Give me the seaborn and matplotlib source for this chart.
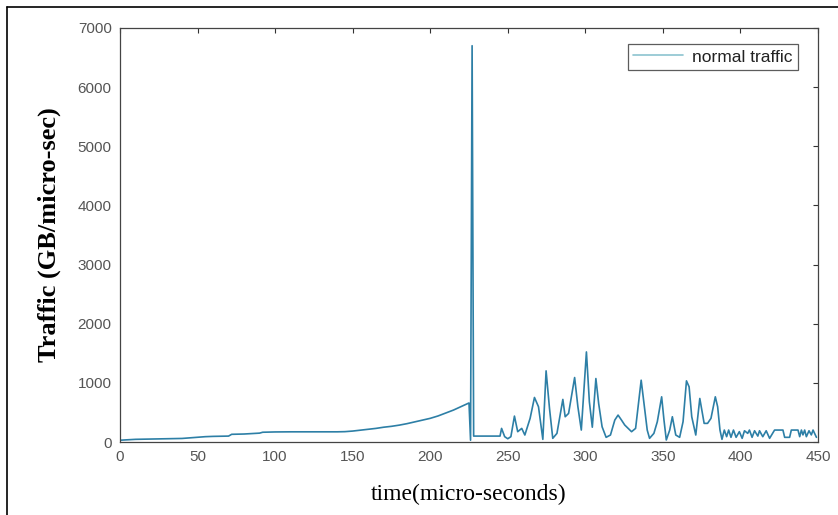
import matplotlib
matplotlib.use("Agg")
import matplotlib.pyplot as plt
from matplotlib.lines import Line2D
import pandas as pd
import seaborn as sns

# valores
tiempo_inicial = [0, 10, 20, 30, 40, 50, 55, 60, 70, 72, 80, 90, 92, 100, 110, 120,
                  130, 140, 145, 150, 155, 160, 165, 170, 175, 180, 185, 190, 195,
                  200, 205, 210, 215, 220, 225]
trafico_inicial = [30, 45, 50, 55, 60, 80, 90, 95, 100, 130, 135, 150, 165, 170, 172,
                   172, 172, 172, 175, 185, 200, 215, 230, 250, 265, 285, 310, 340,
                   370, 400, 440, 490, 540, 600, 660]

tiempo_pico = [226, 227, 228, 230, 235, 240, 245]
trafico_pico = [30, 6700, 100, 100, 100, 100, 100]

tiempo_rafagas = [246, 248, 250, 252, 254.3, 256.4, 259, 261, 264.4, 267.2, 269.8,
                  272.6, 274.7, 276.9, 279, 281.7, 285.5, 287, 289.2, 293.1, 295.2,
                  297.4, 300.7, 302.6, 304.5, 306.8, 308.6, 310.8, 313.4, 316.2, 319,
                  321.1, 323.3, 325.4, 327.6, 329.8, 332.4, 336, 337.7, 339.9, 341.4,
                  344.2, 346.4, 349.2, 350.7, 352.2, 354.4, 356.1, 358.3, 360.8, 363,
                  365.2, 366.9, 368.6, 371.2, 373.8, 376.6, 378.8, 381, 383.8, 385.3,
                  386.8, 388.1]
trafico_rafagas = [230, 90, 55, 90, 438, 174, 230, 118, 400, 753, 596, 45, 1203, 568,
                   62, 146, 720, 427, 483, 1090, 596, 202, 1523, 680, 250, 1073, 650,
                   258, 79, 118, 371, 455, 371, 287, 230, 174, 230, 1045, 680, 202, 62,
                   146, 343, 764, 371, 34, 202, 427, 118, 79, 343, 1034, 933, 427, 118,
                   736, 315, 315, 400, 764, 596, 202, 45]

tiempo_final = [389.6, 391.1, 392.4, 393.9, 395.5, 397.2, 399.3, 401.1, 402.6, 404.7,
                405.8, 407.5, 409.1, 411.2, 412.3, 414.4, 416.6, 418.8, 422, 427.4,
                428.5, 431.7, 432.8, 437.1, 438.2, 439.3, 440.3, 441.4, 442.5, 444.2,
                445.7, 446.8, 449]
trafico_final = [202, 90, 202, 79, 202, 79, 175, 62, 190, 146, 202, 79, 190, 100, 190,
                 90, 190, 62, 202, 202, 79, 79, 202, 202, 90, 202, 120, 202, 90, 190,
                 120, 202, 79]

etiquetas_x = [0, 50, 100, 150, 200, 250, 300, 350, 400, 450]
etiquetas_y = [0, 1000, 2000, 3000, 4000, 5000, 6000, 7000]


def main():
    df = pd.DataFrame({
        "tiempo": tiempo_inicial + tiempo_pico + tiempo_rafagas + tiempo_final,
        "trafico": trafico_inicial + trafico_pico + trafico_rafagas + trafico_final,
    })

    sns.set_theme(style="white")
    plt.rcParams["font.family"] = ["Liberation Sans", "DejaVu Sans"]

    fig = plt.figure(figsize=(8.38, 5.15), dpi=100)
    ax = fig.add_axes([120 / 838, 1 - 442 / 515, 698 / 838, 414 / 515])

    sns.lineplot(data=df, x="tiempo", y="trafico", ax=ax, color="#2d7fa6",
                 linewidth=1.2, estimator=None, sort=False, label="normal traffic")

    ax.set_xlim(0, 450)
    ax.set_ylim(0, 7000)
    ax.set_xticks(etiquetas_x)
    ax.set_yticks(etiquetas_y)
    ax.tick_params(direction="in", top=True, right=True, length=3.5, width=0.8,
                   colors="#333333", labelcolor="#555555", labelsize=11, pad=6)
    for s in ax.spines.values():
        s.set_color("#444444")
        s.set_linewidth(0.9)

    ax.set_xlabel("time(micro-seconds)", family="Liberation Serif", fontsize=17,
                  color="black", labelpad=14)
    ax.set_ylabel("Traffic (GB/micro-sec)", family="Liberation Serif", fontsize=19,
                  fontweight="bold", color="black", labelpad=12)

    leg = ax.legend(loc="upper right", fontsize=12.5, frameon=True, fancybox=False,
                    handlelength=2.9, handletextpad=0.5, borderpad=0.3,
                    borderaxespad=0, bbox_to_anchor=(0.971, 0.961))
    leg.get_frame().set_edgecolor("#333333")
    leg.get_frame().set_linewidth(0.9)
    leg.legend_handles[0].set_color("#8cc3cf")
    for txt in leg.get_texts():
        txt.set_color("#222222")

    # marco exterior de la imagen original (solo arriba e izquierda)
    fig.add_artist(Line2D([7 / 838, 1], [1 - 7 / 515, 1 - 7 / 515], color="black", lw=1.2))
    fig.add_artist(Line2D([7 / 838, 7 / 838], [0, 1 - 7 / 515], color="black", lw=1.2))

    fig.savefig("out.png", dpi=100)


if __name__ == "__main__":
    main()
